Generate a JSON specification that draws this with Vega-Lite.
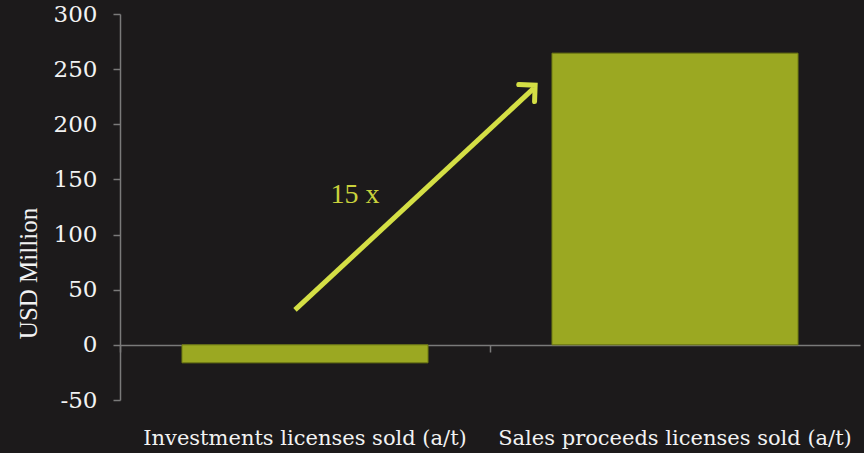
{
  "$schema": "https://vega.github.io/schema/vega-lite/v6.json",
  "width": 740,
  "height": 386,
  "autosize": "none",
  "padding": {"left": 120, "top": 14, "right": 4, "bottom": 53},
  "background": "#1c1a1b",
  "config": {"view": {"stroke": null}},
  "datasets": {
    "bars": [
      {"category": "Investments licenses sold (a/t)", "value": -16.3},
      {"category": "Sales proceeds licenses sold (a/t)", "value": 264.5}
    ],
    "arrow": [
      {"px": 0.473, "py": 31.7, "ord": 0},
      {"px": 1.118, "py": 232.5, "ord": 1}
    ],
    "head": [{"px": 1.122, "py": 235.5}],
    "note": [{"px": 0.635, "py": 135.9, "label": "15 x"}]
  },
  "layer": [
    {
      "data": {"name": "bars"},
      "mark": {"type": "bar", "color": "#9ba822", "stroke": "#6e7a12", "strokeWidth": 1, "width": {"band": 0.665}},
      "encoding": {
        "x": {
          "field": "category", "type": "nominal", "sort": null,
          "scale": {"paddingInner": 0, "paddingOuter": 0},
          "axis": {
            "title": null, "labelAngle": 0, "orient": "bottom", "offset": -55,
            "bandPosition": 0, "domainColor": "#7a7a7a", "domainWidth": 1.5,
            "tickColor": "#7a7a7a", "tickSize": 7, "tickWidth": 1.5,
            "labelPadding": 75, "labelColor": "#f2f2f2", "labelFont": "DejaVu Serif",
            "labelFontSize": 21, "labelFontWeight": "normal", "labelLimit": 0
          }
        },
        "y": {
          "field": "value", "type": "quantitative",
          "scale": {"domain": [-50, 300], "nice": false, "zero": false},
          "axis": {
            "title": "USD Million", "values": [-50, 0, 50, 100, 150, 200, 250, 300],
            "labelExpr": "replace(datum.label, '\u2212', '-')",
            "grid": false, "domainColor": "#7a7a7a", "domainWidth": 1.5,
            "tickColor": "#7a7a7a", "tickSize": 7, "tickWidth": 1.5,
            "labelPadding": 16, "labelColor": "#f2f2f2", "labelFont": "DejaVu Serif",
            "labelFontSize": 23,
            "titleFont": "Liberation Serif", "titleFontSize": 25, "titleFontWeight": "normal",
            "titleColor": "#f2f2f2", "titleAngle": -90, "titleX": -92, "titleY": 259,
            "titleAlign": "center", "titleBaseline": "middle"
          }
        }
      }
    },
    {
      "data": {"name": "arrow"},
      "mark": {"type": "line", "color": "#d4df45", "strokeWidth": 5, "strokeCap": "butt"},
      "encoding": {
        "x": {"field": "px", "type": "quantitative", "scale": {"domain": [0, 2], "nice": false, "zero": false}, "axis": null},
        "y": {"field": "py", "type": "quantitative"},
        "order": {"field": "ord"}
      }
    },
    {
      "data": {"name": "head"},
      "mark": {"type": "point", "shape": "M -0.7 0.7 L 0 0 L 0.7 0.7", "filled": false, "stroke": "#d4df45", "strokeWidth": 5, "size": 1100, "angle": 47, "strokeCap": "round", "strokeJoin": "miter", "opacity": 1},
      "encoding": {
        "x": {"field": "px", "type": "quantitative", "scale": {"domain": [0, 2], "nice": false, "zero": false}, "axis": null},
        "y": {"field": "py", "type": "quantitative"}
      }
    },
    {
      "data": {"name": "note"},
      "mark": {"type": "text", "font": "Liberation Serif", "fontSize": 28, "color": "#c9d23c", "align": "center", "baseline": "middle"},
      "encoding": {
        "x": {"field": "px", "type": "quantitative", "scale": {"domain": [0, 2], "nice": false, "zero": false}, "axis": null},
        "y": {"field": "py", "type": "quantitative"},
        "text": {"field": "label"}
      }
    }
  ],
  "resolve": {"scale": {"x": "independent"}, "axis": {"x": "independent"}}
}
